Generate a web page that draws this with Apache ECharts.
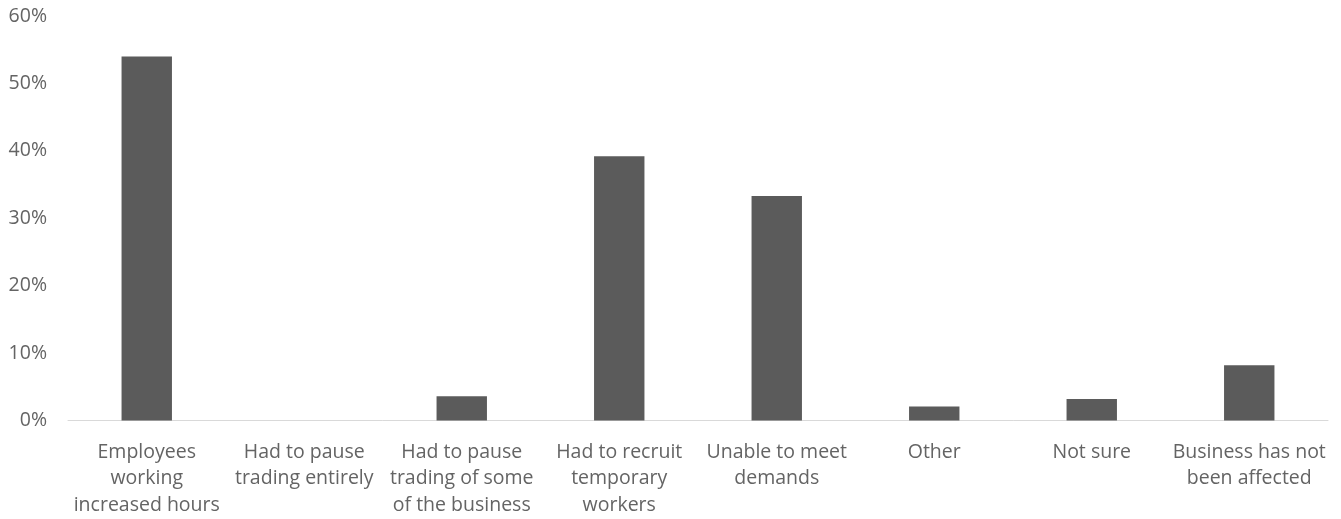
<!DOCTYPE html>
<html>
<head>
<meta charset="utf-8">
<script src="https://cdn.jsdelivr.net/npm/echarts@6/dist/echarts.min.js"></script>
<style>
  html, body { margin: 0; padding: 0; background: #ffffff; }
  #chart { width: 1341px; height: 519px; }
</style>
</head>
<body>
<div id="chart"></div>
<script>
// Survey responses: how the business has been affected
const categories = [
  'Employees working increased hours',
  'Had to pause trading entirely',
  'Had to pause trading of some of the business',
  'Had to recruit temporary workers',
  'Unable to meet demands',
  'Other',
  'Not sure',
  'Business has not been affected'
];
const shares = [54.0, 0, 3.6, 39.2, 33.3, 2.1, 3.2, 8.2];
const yTicks = [0, 10, 20, 30, 40, 50, 60];

// Line breaks for the category labels under the axis
const labelBreaks = {
  'Employees working increased hours': ['Employees', 'working', 'increased hours'],
  'Had to pause trading entirely': ['Had to pause', 'trading entirely'],
  'Had to pause trading of some of the business': ['Had to pause', 'trading of some', 'of the business'],
  'Had to recruit temporary workers': ['Had to recruit', 'temporary', 'workers'],
  'Unable to meet demands': ['Unable to meet', 'demands'],
  'Other': ['Other'],
  'Not sure': ['Not sure'],
  'Business has not been affected': ['Business has not', 'been affected']
};

const chart = echarts.init(document.getElementById('chart'), null, { renderer: 'canvas' });
const textColor = '#646464';
const fontFamily = '"Open Sans", "Noto Sans", sans-serif';

chart.setOption({
  animation: false,
  grid: { left: 68, right: 13, top: 16, bottom: 98, containLabel: false },
  xAxis: {
    type: 'category',
    data: categories,
    axisLine: { show: true, lineStyle: { color: '#d9d9d9', width: 1 } },
    axisTick: { show: false },
    axisLabel: {
      interval: 0,
      color: textColor,
      fontFamily: fontFamily,
      fontSize: 19.5,
      lineHeight: 26.8,
      margin: 18,
      formatter: (v) => (labelBreaks[v] || [v]).join('\n')
    }
  },
  yAxis: {
    type: 'value',
    min: yTicks[0],
    max: yTicks[yTicks.length - 1],
    interval: 10,
    splitLine: { show: false },
    axisLine: { show: false },
    axisTick: { show: false },
    axisLabel: {
      color: textColor,
      fontFamily: fontFamily,
      fontSize: 19.5,
      margin: 21,
      formatter: (v) => v + '%'
    }
  },
  series: [{
    type: 'bar',
    data: shares,
    barWidth: '32%',
    itemStyle: { color: '#5b5b5b' }
  }]
});
</script>
</body>
</html>
